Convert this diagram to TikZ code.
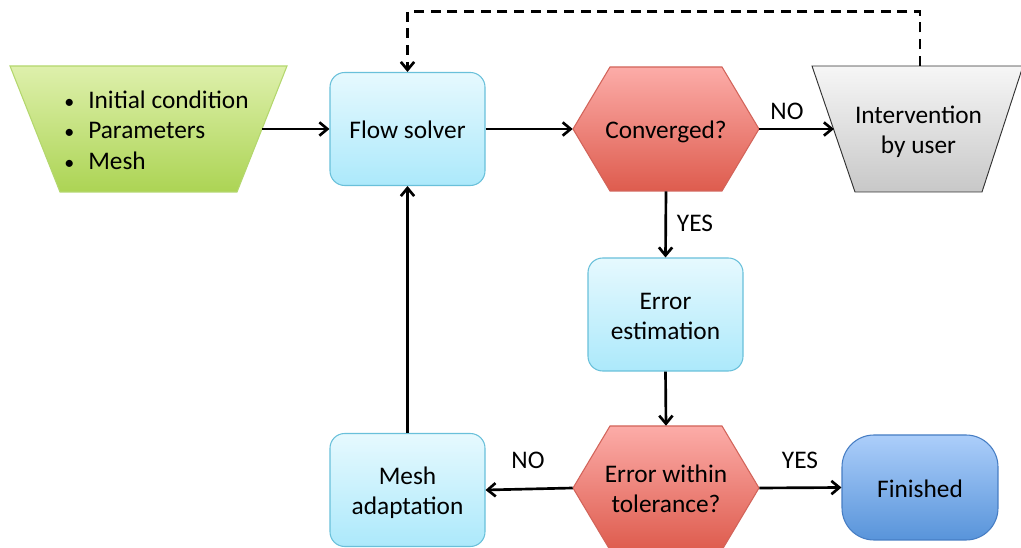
\documentclass[tikz,border=0pt]{standalone}
\usepackage{fontspec}
\setmainfont{Carlito}
\usetikzlibrary{arrows.meta,calc}

\definecolor{cyanTop}{RGB}{230,249,254}
\definecolor{cyanBot}{RGB}{172,233,251}
\definecolor{cyanLine}{RGB}{105,192,218}
\definecolor{redTop}{RGB}{252,172,168}
\definecolor{redBot}{RGB}{222,92,78}
\definecolor{redLine}{RGB}{210,100,90}
\definecolor{greenTop}{RGB}{222,240,172}
\definecolor{greenBot}{RGB}{172,212,84}
\definecolor{greenLine}{RGB}{180,215,110}
\definecolor{grayTop}{RGB}{246,246,246}
\definecolor{grayBot}{RGB}{200,200,200}
\definecolor{grayLine}{RGB}{50,50,50}
\definecolor{blueTop}{RGB}{172,206,250}
\definecolor{blueBot}{RGB}{88,148,218}
\definecolor{blueLine}{RGB}{70,125,195}

% top strut (height only) and bottom strut (depth only)
\newcommand\ppt{\rule{0pt}{19.8pt}}
\newcommand\ppb{\rule[-5pt]{0pt}{5pt}}
\newcommand\bul{\makebox[18pt][l]{\fontsize{15}{15}\selectfont •}}

\begin{document}
\begin{tikzpicture}[x=0.75pt,y=-0.75pt,
  every node/.style={font=\fontsize{19}{22.5}\selectfont, text=black},
  procbox/.style={rectangle, rounded corners=11pt, draw=cyanLine, line width=0.8pt,
    top color=cyanTop, bottom color=cyanBot, minimum width=116.25pt,
    minimum height=84.75pt, align=center, inner sep=0pt},
  endbox/.style={rectangle, rounded corners=24pt, draw=blueLine, line width=0.8pt,
    top color=blueTop, bottom color=blueBot, minimum width=117pt,
    minimum height=78.75pt, align=center, inner sep=0pt},
  hexfill/.style={draw=redLine, line width=0.8pt, top color=redTop, bottom color=redBot},
  greenfill/.style={draw=greenLine, line width=0.8pt, top color=greenTop, bottom color=greenBot},
  grayfill/.style={draw=grayLine, line width=0.7pt, top color=grayTop, bottom color=grayBot},
  holder/.style={rectangle, inner sep=0pt, align=center},
  conn/.style={line width=2pt, -{Straight Barb[length=6pt,width=10pt,line width=2pt]}},
  dashconn/.style={conn, dash pattern=on 7.5pt off 5pt},
  lbl/.style={inner sep=0pt}
]
\useasboundingbox (0,0) rectangle (1021,548);
\clip (0,0) rectangle (1021,548);

% shapes drawn as paths
\path[greenfill] (10,66) -- (287,66) -- (237,192) -- (60,192) -- cycle;
\path[grayfill] (812,66) -- (1023,66) -- (982,192) -- (855,192) -- cycle;
\path[hexfill] (573,129) -- (610,67) -- (722,67) -- (759,129) -- (722,191) -- (610,191) -- cycle;
\path[hexfill] (573,488) -- (610,426) -- (722,426) -- (759,488) -- (722,550) -- (610,550) -- cycle;

% nodes
\node[rectangle, inner sep=0pt, minimum width=170.25pt, minimum height=94.5pt] (inputs) at (148.5,129) {};
\node[rectangle, inner sep=0pt, anchor=west, align=left, font=\fontsize{19}{23}\selectfont] (inputlist) at (64,130)
  {\bul Initial condition\\ \bul Parameters\\ \bul Mesh};
\node[procbox] (flow) at (407.5,129) {\ppt\ppb Flow solver};
\node[holder, minimum width=139.5pt, minimum height=93pt] (conv) at (666,129) {\ppt\ppb Converged?};
\node[holder, minimum width=126.4pt, minimum height=94.5pt] (interv) at (918.5,129) {\ppt Intervention\\by user\ppb};
\node[procbox] (est) at (665.5,314.5) {\ppt Error\\estimation\ppb};
\node[holder, minimum width=139.5pt, minimum height=93pt] (tol) at (666,488) {\ppt Error within\\tolerance?\ppb};
\node[procbox] (mesh) at (407.5,490) {\ppt Mesh\\adaptation\ppb};
\node[endbox] (fin) at (920,487.5) {\ppt\ppb Finished};

% connectors
\draw[conn] (inputs.east) -- (flow.west);
\draw[conn] (flow.east) -- (conv.west);
\draw[conn] (conv.east) -- (interv.west);
\draw[conn] (conv.south) -- (est.north);
\draw[conn] (est.south) -- (tol.north);
\draw[conn] (tol.west) -- (mesh.east);
\draw[conn] (tol.east) -- (fin.west);
\draw[conn] (mesh.north) -- (flow.south);
\draw[dashconn] ([xshift=1.2pt]interv.north) -- ++(0,-54) -| (flow.north);

% labels
\node[lbl] (noA) at (787,111) {NO};
\node[lbl] (yesA) at (695,223) {YES};
\node[lbl] (noB) at (528,460) {NO};
\node[lbl] (yesB) at (800,460) {YES};
\end{tikzpicture}
\end{document}
